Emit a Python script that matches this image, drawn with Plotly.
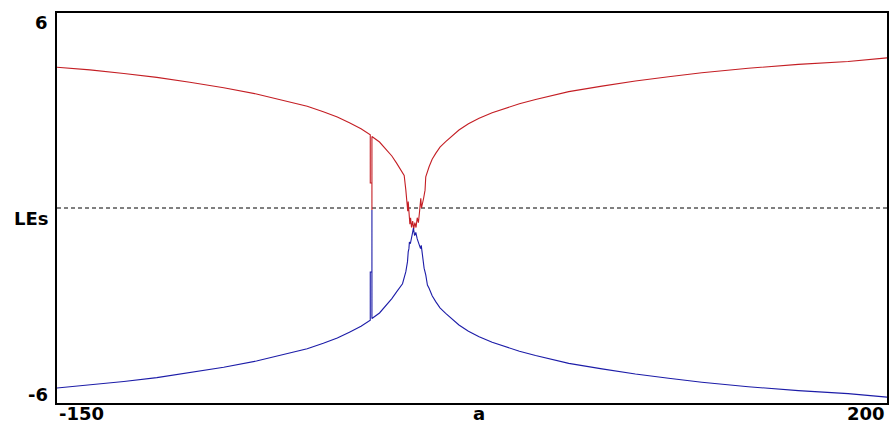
import plotly.graph_objects as go

# Lyapunov exponents vs parameter a
RED_A = [
    -150, -136.1, -121.8, -107.9, -94.0, -79.7, -65.9, -52.0, -44.5, -37.7,
    -31.8, -26.7, -21.8,
    -17.9, -17.9, -17.2, -17.2, -17.2,
    -14.0, -11.0, -8.8, -6.8, -5.5, -4.3, -3.6, -2.9, -2.4, -2.1, -1.9, -1.6,
    -1.2, -0.9, -0.5, 0.0, 0.4, 0.9, 1.4, 1.9, 2.4, 2.9, 3.4, 3.7, 4.1, 4.6,
    5.2, 5.5, 6.9, 8.2, 9.7, 11.5, 13.9, 16.5, 19.5, 23.5, 28.0, 33.5, 39.2,
    45.0, 51.8, 65.8, 79.8, 93.9, 107.9, 121.9, 141.5, 162.6, 183.6, 200,
]
RED_LE = [
    4.33, 4.25, 4.14, 4.02, 3.87, 3.70, 3.51, 3.27, 3.13, 2.96,
    2.80, 2.62, 2.44,
    2.25, 0.77, 0.77, -0.06, 2.20,
    2.03, 1.80, 1.60, 1.38, 1.23, 1.10, 1.00, 0.55, 0.20, -0.10, 0.20, -0.30,
    -0.50, -0.30, -0.60, -0.40, -0.65, -0.45, -0.60, -0.30, -0.45, -0.10, 0.30,
    0.00, 0.10, 0.30,
    0.55, 0.96, 1.27, 1.50, 1.68, 1.87, 2.04, 2.22, 2.40, 2.59, 2.76, 2.93,
    3.07, 3.21, 3.34, 3.58, 3.75, 3.91, 4.04, 4.16, 4.30, 4.42, 4.51, 4.62,
]

BLUE_A = [
    -150, -136.1, -121.8, -107.9, -94.0, -79.7, -65.9, -52.0, -44.5, -37.7,
    -31.8, -26.7, -21.8,
    -17.9, -17.9, -17.2, -17.2, -17.2,
    -14.0, -11.0, -8.8, -6.8, -4.3, -2.9, -2.2, -1.9, -1.6, -1.4, -1.0, -0.1,
    0.3, 0.8, 1.3, 1.9, 2.7, 3.3, 3.6, 4.1, 4.8, 5.5, 6.2,
    6.9, 8.2, 9.7, 11.5, 13.9, 16.5, 19.5, 23.5, 28.0, 33.5, 39.2, 45.0, 51.8,
    65.8, 79.8, 93.9, 107.9, 121.9, 141.5, 162.6, 183.6, 200,
]
BLUE_LE = [
    -5.54, -5.45, -5.34, -5.22, -5.07, -4.90, -4.71, -4.47, -4.33, -4.16,
    -4.00, -3.82, -3.64,
    -3.45, -1.97, -1.97, -0.06, -3.40,
    -3.23, -2.98, -2.79, -2.58, -2.33, -1.96, -1.65, -1.35, -1.25, -1.05,
    -1.10, -0.77,
    -0.62, -0.85, -0.75, -0.95, -1.14, -1.25, -1.15, -1.54, -1.85, -2.06,
    -2.37,
    -2.47, -2.70, -2.88, -3.07, -3.24, -3.42, -3.60, -3.79, -3.96, -4.13,
    -4.27, -4.41, -4.54, -4.78, -4.95, -5.11, -5.24, -5.36, -5.50, -5.62,
    -5.71, -5.82,
]

X_RANGE = [-150, 200]
Y_RANGE = [-6, 6]
ZERO_LEVEL = 0
X_NAME_POS = 28

LABEL_FONT = dict(family="DejaVu Sans", size=18, color="black")

fig = go.Figure()

fig.add_trace(
    go.Scatter(
        x=RED_A, y=RED_LE, mode="lines",
        line=dict(color="#c41e24", width=1.1),
        hoverinfo="skip",
    )
)
fig.add_trace(
    go.Scatter(
        x=BLUE_A, y=BLUE_LE, mode="lines",
        line=dict(color="#1c1ca8", width=1.1),
        hoverinfo="skip",
    )
)

fig.add_hline(
    y=ZERO_LEVEL, line=dict(color="black", width=1, dash="4px,3px"), layer="below"
)

fig.update_xaxes(
    range=X_RANGE, showgrid=False, zeroline=False, showticklabels=False,
    showline=True, linecolor="black", linewidth=1.5, mirror=True,
)
fig.update_yaxes(
    range=Y_RANGE, showgrid=False, zeroline=False, showticklabels=False,
    showline=True, linecolor="black", linewidth=1.5, mirror=True,
)

# axis labels placed like the original (ends + name in the middle)
y_labels = [(Y_RANGE[1], "6", -9), (ZERO_LEVEL, "LEs", -10), (Y_RANGE[0], "-6", 9)]
for yv, txt, ys in y_labels:
    fig.add_annotation(
        x=0, xref="paper", y=yv, yref="y", text=f"<b>{txt}</b>",
        showarrow=False, xanchor="right", xshift=-7, yshift=ys, font=LABEL_FONT,
    )

x_labels = [(X_RANGE[0], "-150", "left"), (X_NAME_POS, "a", "center"), (X_RANGE[1], "200", "right")]
for xv, txt, xa in x_labels:
    fig.add_annotation(
        x=xv, xref="x", y=0, yref="paper", text=f"<b>{txt}</b>",
        showarrow=False, xanchor=xa, yanchor="top", yshift=2, font=LABEL_FONT,
    )

fig.update_layout(
    width=892,
    height=424,
    margin=dict(l=57, r=3, t=13, b=21),
    paper_bgcolor="white",
    plot_bgcolor="white",
    showlegend=False,
)

fig.write_html(
    "out.html",
    config={"displayModeBar": False},
    post_script="document.body.style.margin='0';document.body.style.overflow='hidden';",
)
